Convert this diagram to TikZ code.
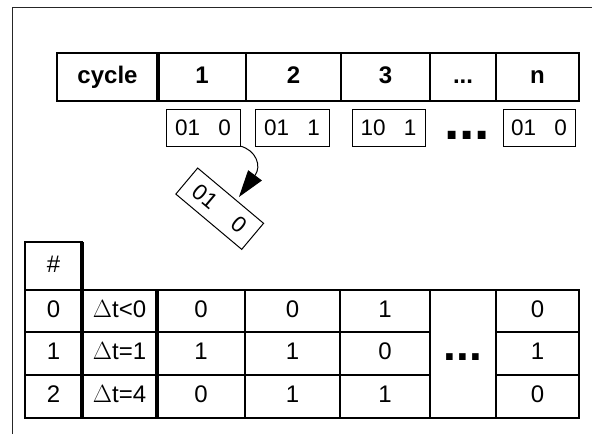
\documentclass[tikz,border=0pt]{standalone}
\usepackage{fontspec}
\setmainfont{Liberation Sans}
\usetikzlibrary{arrows.meta,calc}
\begin{document}
\begin{tikzpicture}[x=1pt,y=-1pt,
  cell/.style={draw, line width=1.1pt, inner sep=0pt, outer sep=0pt,
    font=\fontsize{24}{28}\selectfont, text height=17pt, text depth=5pt},
  hcell/.style={cell, font=\fontsize{24}{28}\selectfont\bfseries},
  bits/.style={draw, line width=1pt, inner sep=0pt, outer sep=0pt,
    minimum height=37pt, font=\fontsize{22.5}{26}\selectfont},
  divider/.style={line width=4pt},
  bigdots/.style={inner sep=0pt, anchor=base, font=\bfseries}
]
\useasboundingbox (0,0) rectangle (592,434);
% frame
\draw[line width=1pt, black!85] (12,434) -- (12,7) -- (592,7);

% top table
\node[hcell, minimum width=101pt, minimum height=48pt] (c0) at (107.5,77) {cycle};
\node[hcell, minimum width=88pt, minimum height=48pt] (c1) at (202,77) {1};
\node[hcell, minimum width=95pt, minimum height=48pt] (c2) at (293.5,77) {2};
\node[hcell, minimum width=89pt, minimum height=48pt] (c3) at (385.5,77) {3};
\node[hcell, minimum width=66pt, minimum height=48pt] (c4) at (463,77) {...};
\node[hcell, minimum width=83pt, minimum height=48pt] (c5) at (537.5,77) {n};
\draw[divider] (c0.north east) -- (c0.south east);

% bit boxes
\node[bits, minimum width=74pt] (b1) at (203,127.5) {01\hspace{18.4pt}0};
\node[bits, minimum width=74pt] (b2) at (292,127.5) {01\hspace{18.4pt}1};
\node[bits, minimum width=73pt] (b3) at (388.5,127.5) {10\hspace{18.4pt}1};
\node[bigdots, font=\fontsize{55}{60}\selectfont\bfseries] (bd) at (467,139.3) {...};
\node[bits, minimum width=72pt] (bn) at (539,127.5) {01\hspace{18.4pt}0};

% rotated box and arrow
\node[draw, line width=1pt, inner sep=0pt, minimum width=86pt, minimum height=34pt,
  rotate=-40, font=\fontsize{22.5}{26}\selectfont] (rb) at (219.7,208.7) {01\hspace{25pt}0};
\draw[line width=1pt, -{Triangle[length=27pt,width=17pt]}]
  (b1.south east) .. controls (256,150) and (262,166) ..
  ($(rb.north)!0.24!(rb.north east)+(0,-5)$);

% bottom table
\node[cell, minimum width=57pt, minimum height=48pt] (h0) at (53.5,266) {\#};
% row 0
\node[cell, minimum width=57pt, minimum height=42pt] (r0c0) at (53.5,311) {0};
\node[cell, minimum width=75pt, minimum height=42pt] (r0c1) at (119.5,311) {$\Delta$t<0};
\node[cell, minimum width=88pt, minimum height=42pt] (r0c2) at (201,311) {0};
\node[cell, minimum width=95pt, minimum height=42pt] (r0c3) at (292.5,311) {0};
\node[cell, minimum width=90pt, minimum height=42pt] (r0c4) at (385,311) {1};
\node[cell, minimum width=83pt, minimum height=42pt] (r0c6) at (537.5,311) {0};
% row 1
\node[cell, minimum width=57pt, minimum height=43pt] (r1c0) at (53.5,353.5) {1};
\node[cell, minimum width=75pt, minimum height=43pt] (r1c1) at (119.5,353.5) {$\Delta$t=1};
\node[cell, minimum width=88pt, minimum height=43pt] (r1c2) at (201,353.5) {1};
\node[cell, minimum width=95pt, minimum height=43pt] (r1c3) at (292.5,353.5) {1};
\node[cell, minimum width=90pt, minimum height=43pt] (r1c4) at (385,353.5) {0};
\node[cell, minimum width=83pt, minimum height=43pt] (r1c6) at (537.5,353.5) {1};
% row 2
\node[cell, minimum width=57pt, minimum height=43pt] (r2c0) at (53.5,396.5) {2};
\node[cell, minimum width=75pt, minimum height=43pt] (r2c1) at (119.5,396.5) {$\Delta$t=4};
\node[cell, minimum width=88pt, minimum height=43pt] (r2c2) at (201,396.5) {0};
\node[cell, minimum width=95pt, minimum height=43pt] (r2c3) at (292.5,396.5) {1};
\node[cell, minimum width=90pt, minimum height=43pt] (r2c4) at (385,396.5) {1};
\node[cell, minimum width=83pt, minimum height=43pt] (r2c6) at (537.5,396.5) {0};
% dots column
\node[draw, line width=1.1pt, inner sep=0pt, outer sep=0pt, minimum width=66pt,
  minimum height=128pt] (dc) at (463,354) {};
\node[bigdots, font=\fontsize{46}{50}\selectfont\bfseries] (dd) at (463,360.7) {...};
% dividers
\draw[divider] (h0.north east) -- (r2c0.south east);
\draw[divider] (r0c1.north east) -- (r2c1.south east);
\end{tikzpicture}
\end{document}
